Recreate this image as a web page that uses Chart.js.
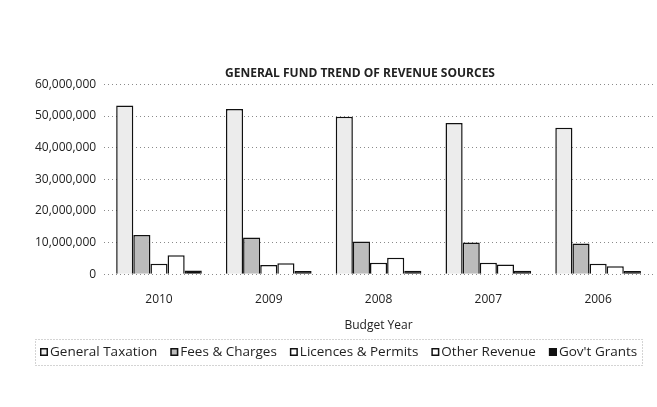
<!DOCTYPE html>
<html>
<head>
<meta charset="utf-8">
<script src="https://cdn.jsdelivr.net/npm/chart.js@4.4.0/dist/chart.umd.min.js"></script>
<style>
  html, body { margin: 0; padding: 0; background: #ffffff; }
  #wrap { width: 657px; height: 407px; position: relative; }
</style>
</head>
<body>
<div id="wrap"><canvas id="c" width="657" height="407"></canvas></div>
<script>
const categories = ["2010", "2009", "2008", "2007", "2006"];
const generalTaxation = [53300000, 52200000, 49800000, 47800000, 46300000];
const feesCharges = [12400000, 11600000, 10300000, 10000000, 9700000];
const licencesPermits = [3300000, 2900000, 3600000, 3600000, 3300000];
const otherRevenue = [6000000, 3500000, 5200000, 3100000, 2500000];
const govtGrants = [1200000, 1000000, 1100000, 1100000, 1000000];
const yTicks = [0, 10000000, 20000000, 30000000, 40000000, 50000000, 60000000];

const FONT = "'Open Sans', 'Liberation Sans', sans-serif";

// shift the title centre to match the original layout
const titleShift = {
  id: 'titleShift',
  afterLayout(chart) {
    if (chart.titleBlock) chart.titleBlock.left += 40;
  }
};

// legend row drawn under the axis title, from the chart's own datasets
const bottomLegend = {
  id: 'bottomLegend',
  afterDraw(chart) {
    const ctx = chart.ctx;
    const sets = chart.data.datasets;
    const box = 8, gap = 2, itemGap = 13, cy = 352;
    ctx.save();
    ctx.font = "13.5px " + FONT;
    const widths = sets.map(d => box + gap + ctx.measureText(d.label).width);
    const total = widths.reduce((a, b) => a + b, 0) + itemGap * (sets.length - 1);
    let x = Math.round(338.5 - total / 2);
    ctx.textBaseline = 'middle';
    ctx.textAlign = 'left';
    sets.forEach((d, i) => {
      ctx.fillStyle = d.backgroundColor;
      ctx.fillRect(x, cy - box / 2, box, box);
      ctx.strokeStyle = '#111111';
      ctx.lineWidth = 1.5;
      ctx.setLineDash([]);
      ctx.strokeRect(x + 0.75, cy - box / 2 + 0.75, box - 1.5, box - 1.5);
      ctx.fillStyle = '#222222';
      ctx.fillText(d.label, x + box + gap, cy + 0.5);
      x += widths[i] + itemGap;
    });
    ctx.strokeStyle = '#a8a8a8';
    ctx.lineWidth = 1;
    ctx.setLineDash([1, 2]);
    ctx.strokeRect(35.5, 339.5, 607, 26);
    ctx.restore();
  }
};

const ds = (label, data, bg) => ({
  label, data, backgroundColor: bg, borderColor: '#111111', borderWidth: 1.5,
  borderSkipped: 'bottom', categoryPercentage: 0.78, barPercentage: 1.0
});

new Chart(document.getElementById('c'), {
  type: 'bar',
  data: {
    labels: categories,
    datasets: [
      ds('General Taxation', generalTaxation, '#ececec'),
      ds('Fees & Charges', feesCharges, '#bcbcbc'),
      ds('Licences & Permits', licencesPermits, '#ffffff'),
      ds('Other Revenue', otherRevenue, '#ffffff'),
      ds("Gov't Grants", govtGrants, '#111111')
    ]
  },
  options: {
    responsive: false,
    animation: false,
    devicePixelRatio: 1,
    layout: { padding: { left: 27, right: 4, top: 0, bottom: 74 } },
    plugins: {
      title: {
        display: true,
        text: 'GENERAL FUND TREND OF REVENUE SOURCES',
        color: '#222222',
        font: { family: FONT, size: 12, weight: 'bold' },
        padding: { top: 66, bottom: 4 }
      },
      legend: { display: false },
      tooltip: { enabled: false }
    },
    scales: {
      x: {
        grid: { display: false },
        border: { display: false },
        ticks: { color: '#222222', font: { family: FONT, size: 12 }, padding: 10 },
        title: {
          display: true, text: 'Budget Year', color: '#222222',
          font: { family: FONT, size: 12 }, padding: { top: 2, bottom: 0 }
        }
      },
      y: {
        min: 0, max: 60000000,
        afterBuildTicks(axis) { axis.ticks = yTicks.map(v => ({ value: v })); },
        grid: { color: '#8a8a8a', lineWidth: 1, drawTicks: false },
        border: { display: false, dash: [1, 3] },
        ticks: {
          color: '#222222', font: { family: FONT, size: 12 }, padding: 8,
          callback: v => Number(v).toLocaleString('en-US')
        }
      }
    }
  },
  plugins: [titleShift, bottomLegend]
});
</script>
</body>
</html>
